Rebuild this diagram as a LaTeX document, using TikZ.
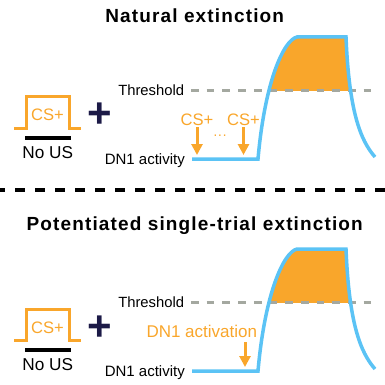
\documentclass[tikz,border=0pt]{standalone}
\usepackage{fontspec}
\setmainfont{Liberation Sans}
\newfontfamily\titlefont[LetterSpace=6]{Liberation Sans}
\usetikzlibrary{arrows.meta}
\definecolor{cueorange}{HTML}{F9A62B}
\definecolor{dnblue}{HTML}{5BC3F5}
\definecolor{threshgray}{HTML}{A4A8A0}
\definecolor{plusnavy}{HTML}{1C1A47}

\begin{document}
\begin{tikzpicture}[x=1pt,y=-1pt,
    heading/.style={anchor=base,inner sep=0pt,font=\titlefont\bfseries\fontsize{19}{22}\selectfont},
    txt/.style={inner sep=0pt,font=\fontsize{14.8}{17}\selectfont},
    cue/.style={anchor=base,inner sep=0pt,text=cueorange,font=\fontsize{16.6}{19}\selectfont},
    cuearrow/.style={cueorange,line width=3pt,-{Triangle[width=11pt,length=11pt]}},
    pulse/.style={cueorange,line width=3pt},
    trace/.style={dnblue,line width=3.5pt},
    thresh/.style={threshgray,line width=3.5pt,dash pattern=on 7.7pt off 8pt}]
    \useasboundingbox (0,0) rectangle (385,385);

    \node[heading] (title1) at (194.7,22.7) {Natural extinction};
    \node[heading] (title2) at (194.7,230.7) {Potentiated single-trial extinction};

    % separator
    \coordinate (sepL) at (0,190);
    \coordinate (sepR) at (385,190);
    \draw[line width=4.7pt,dash pattern=on 10.2pt off 9.8pt,dash phase=5pt] (sepL) -- (sepR);

    \foreach \p/\dy in {a/0,b/212}{
    \begin{scope}[shift={(0,\dy)}]
        % CS+ without US
        \draw[pulse] (14,128) -- (26,128) -- (26,97) -- (69,97) -- (69,128) -- (81,128);
        \node[cue] (\p-cs) at (47.5,121) {CS+};
        \draw[line width=3.5pt] (25,138) -- (71,138);
        \node[txt,anchor=base,font=\fontsize{17.2}{20}\selectfont] (\p-nous) at (47.7,158.3) {No US};
        \node[anchor=base,inner sep=0pt,text=plusnavy,font=\bfseries\fontsize{42}{48}\selectfont] (\p-plus) at (100,128) {+};

        % threshold and DN1 trace
        \node[txt,anchor=base east] (\p-thr) at (184.3,95.7) {Threshold};
        \node[txt,anchor=base east,font=\fontsize{15}{17}\selectfont] (\p-dn) at (185,164) {DN1 activity};
        \begin{scope}
            \clip (255,0) rectangle (380,90.5);
            \fill[cueorange] (258,159) .. controls (265,80) and (284,40) .. (297,37) -- (346,37)
                .. controls (349,110) and (360,140) .. (375,157) -- cycle;
        \end{scope}
        \draw[thresh] (191,90.5) -- (373,90.5);
        \draw[trace] (192,159) -- (258,159) .. controls (265,80) and (284,40) .. (297,37) -- (346,37)
            .. controls (349,110) and (360,140) .. (375,157);
    \end{scope}
    }

    % repeated CS+ cues
    \node[cue] (a-cs1) at (197,125) {CS+};
    \node[cue] (a-cs2) at (243.5,125) {CS+};
    \node[cue,font=\fontsize{14}{17}\selectfont] (a-dots) at (220,139.5) {···};
    \coordinate (a-tip1) at (197,155);
    \coordinate (a-tip2) at (243.5,155);
    \draw[cuearrow,shorten <=2pt] (a-cs1.south) -- (a-tip1);
    \draw[cuearrow,shorten <=2pt] (a-cs2.south) -- (a-tip2);

    % DN1 activation
    \node[cue,font=\fontsize{17}{20}\selectfont] (b-act) at (201.8,337.7) {DN1 activation};
    \coordinate (b-tip) at (245,367);
    \draw[cuearrow,shorten <=4pt] (b-act.south -| b-tip) -- (b-tip);
\end{tikzpicture}
\end{document}
